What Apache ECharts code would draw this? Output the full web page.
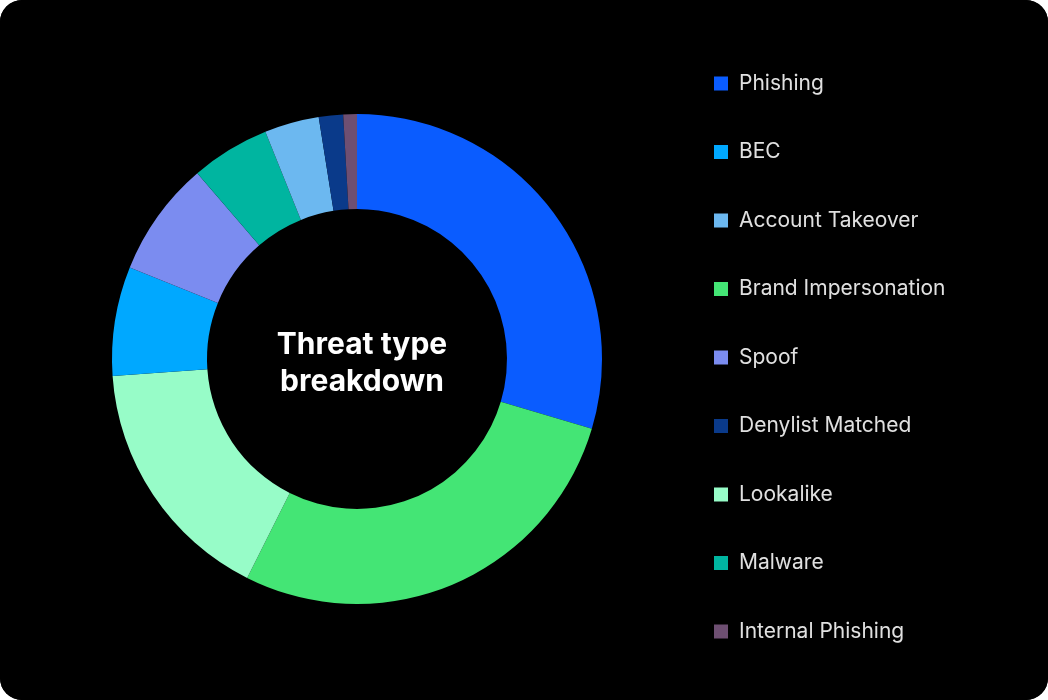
<!DOCTYPE html>
<html><head><meta charset="utf-8">
<script src="https://cdn.jsdelivr.net/npm/echarts@6/dist/echarts.min.js"></script>
<style>html,body{margin:0;background:#fff}#c{width:1048px;height:700px;background:#000;border-radius:22px;overflow:hidden}</style>
</head><body><div id="c"></div>
<script>
const sliceNames = ["Phishing","Brand Impersonation","Lookalike","BEC","Spoof","Malware","Account Takeover","Denylist Matched","Internal Phishing"];
const sliceValues = [29.6,27.8,16.5,7.2,7.6,5.2,3.6,1.6,0.9];
const sliceColors = ["#0A5CFF","#44E575","#97FCC8","#00A8FF","#7B8CF0","#00B5A0","#6CB8F0","#0A3A8A","#6E4F72"];
const legendOrder = ["Phishing","BEC","Account Takeover","Brand Impersonation","Spoof","Denylist Matched","Lookalike","Malware","Internal Phishing"];
const chart = echarts.init(document.getElementById('c'));
chart.setOption({
  backgroundColor:'#000',
  title:{text:'Threat type\nbreakdown',left:357,top:321,textAlign:'center',
    textStyle:{color:'#fff',fontSize:30,fontWeight:'bold',lineHeight:37,fontFamily:'Inter'}},
  legend:{orient:'vertical',left:709,top:68,itemWidth:14,itemHeight:14,itemGap:47.5,icon:'rect',
    data:legendOrder,textStyle:{color:'#e0e0e0',fontSize:21,fontFamily:'Inter',padding:[0,0,0,6]}},
  series:[{type:'pie',center:[357,359],radius:[150,245],startAngle:90,clockwise:true,
    label:{show:false},labelLine:{show:false},silent:true,
    itemStyle:{borderWidth:0},
    data:sliceNames.map((n,i)=>({name:n,value:sliceValues[i],itemStyle:{color:sliceColors[i]}}))}]
});
</script></body></html>
